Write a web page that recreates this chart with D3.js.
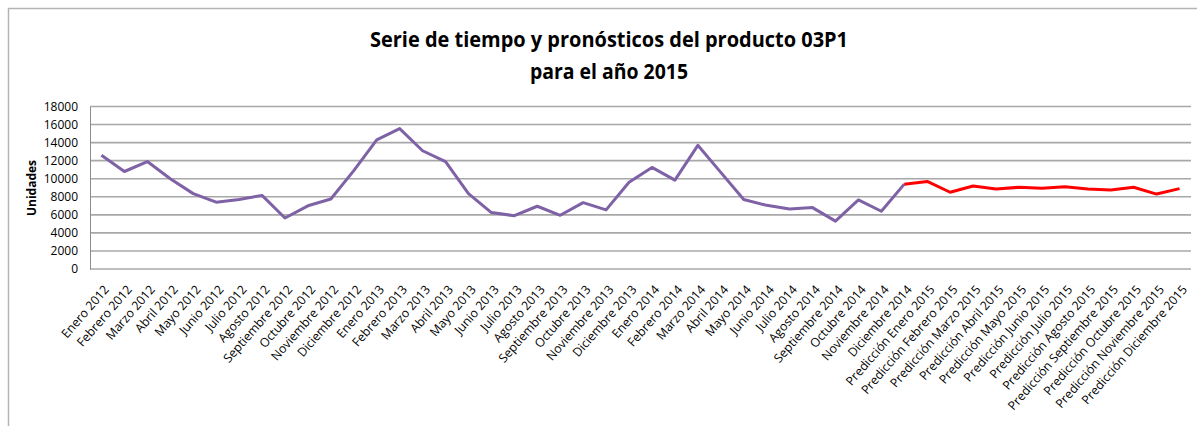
<!DOCTYPE html>
<html>
<head>
<meta charset="utf-8">
<script src="https://cdn.jsdelivr.net/npm/d3@7"></script>
<style>
  body { margin: 0; background: #fff; }
  svg { display: block; }
</style>
</head>
<body>
<div id="chart"></div>
<script>
// meses del historico
var meses = ["Enero", "Febrero", "Marzo", "Abril", "Mayo", "Junio", "Julio",
  "Agosto", "Septiembre", "Octubre", "Noviembre", "Diciembre"];
var historicoLabels = [];
[2012, 2013, 2014].forEach(function (a) {
  meses.forEach(function (m) { historicoLabels.push(m + " " + a); });
});
var prediccionLabels = meses.map(function (m) { return "Predicción " + m + " 2015"; });

// valores
var historico = [12600, 10800, 11900, 10000, 8350, 7400, 7700, 8150, 5650, 7000, 7750, 10900,
  14300, 15550, 13100, 11900, 8350, 6250, 5900, 6950, 5950, 7350, 6550, 9600,
  11250, 9850, 13700, 10700, 7700, 7050, 6650, 6800, 5300, 7650, 6400, 9400];
var prediccion = [9700, 8500, 9200, 8850, 9050, 8950, 9100, 8850, 8750, 9050, 8300, 8900];
var yTicks = [0, 2000, 4000, 6000, 8000, 10000, 12000, 14000, 16000, 18000];

var width = 1197, height = 426;
var margin = { top: 106.5, right: 6, bottom: 157, left: 90 };

var svg = d3.select("#chart").append("svg")
  .attr("width", width)
  .attr("height", height);

// marco del grafico
svg.append("rect")
  .attr("x", 8.5).attr("y", 8.5)
  .attr("width", width + 20).attr("height", height + 20)
  .attr("fill", "none")
  .attr("stroke", "#b4b4b4")
  .attr("stroke-width", 1.5);

var allLabels = historicoLabels.concat(prediccionLabels);

var x = d3.scaleBand()
  .domain(allLabels)
  .range([margin.left, width - margin.right]);

var y = d3.scaleLinear()
  .domain([0, 18000])
  .range([height - margin.bottom, margin.top]);

var cx = function (l) { return x(l) + x.bandwidth() / 2; };

// lineas de division
svg.append("g")
  .selectAll("line")
  .data(yTicks)
  .join("line")
  .attr("x1", margin.left)
  .attr("x2", width - margin.right)
  .attr("y1", function (d) { return y(d); })
  .attr("y2", function (d) { return y(d); })
  .attr("stroke", "#a8a8a8")
  .attr("stroke-width", 1.6);

// eje y
var yAxis = svg.append("g")
  .attr("transform", "translate(" + margin.left + ",0)")
  .call(d3.axisLeft(y).tickValues(yTicks).tickSize(0).tickPadding(12).tickFormat(d3.format("d")));
yAxis.select(".domain").attr("stroke", "#8c8c8c").attr("stroke-width", 1);
yAxis.selectAll("text")
  .attr("font-family", "'Open Sans', sans-serif")
  .attr("font-size", 12)
  .attr("fill", "#000");

// eje x
var xAxis = svg.append("g")
  .attr("transform", "translate(0," + y(0) + ")")
  .call(d3.axisBottom(x).tickSize(0).tickPadding(0));
xAxis.select(".domain").remove();
xAxis.selectAll("text")
  .attr("font-family", "'Open Sans', sans-serif")
  .attr("font-size", 12.3)
  .attr("fill", "#000")
  .attr("text-anchor", "end")
  .attr("y", 0)
  .attr("dy", "0.35em")
  .attr("transform", "translate(5,18) rotate(-49)");

svg.append("text")
  .attr("transform", "translate(36,188) rotate(-90)")
  .attr("text-anchor", "middle")
  .attr("font-family", "'Open Sans', sans-serif")
  .attr("font-weight", "bold")
  .attr("font-size", 12)
  .text("Unidades");

var line = d3.line()
  .x(function (d) { return cx(d.label); })
  .y(function (d) { return y(d.value); });

var histData = historico.map(function (v, i) { return { label: historicoLabels[i], value: v }; });
var predData = [histData[histData.length - 1]].concat(
  prediccion.map(function (v, i) { return { label: prediccionLabels[i], value: v }; }));

svg.append("path")
  .datum(histData)
  .attr("fill", "none")
  .attr("stroke", "#7f62a6")
  .attr("stroke-width", 3)
  .attr("stroke-linejoin", "round")
  .attr("d", line);

svg.append("path")
  .datum(predData)
  .attr("fill", "none")
  .attr("stroke", "#ff0000")
  .attr("stroke-width", 3)
  .attr("stroke-linejoin", "round")
  .attr("d", line);

// titulo
var title = svg.append("g")
  .attr("font-family", "'Open Sans', sans-serif")
  .attr("font-weight", "bold")
  .attr("font-size", 22)
  .attr("text-anchor", "middle");
title.append("text")
  .attr("x", 609).attr("y", 47)
  .attr("textLength", 478)
  .attr("lengthAdjust", "spacingAndGlyphs")
  .text("Serie de tiempo y pronósticos del producto 03P1");
title.append("text")
  .attr("x", 609).attr("y", 79)
  .attr("textLength", 158)
  .attr("lengthAdjust", "spacingAndGlyphs")
  .text("para el año 2015");
</script>
</body>
</html>
